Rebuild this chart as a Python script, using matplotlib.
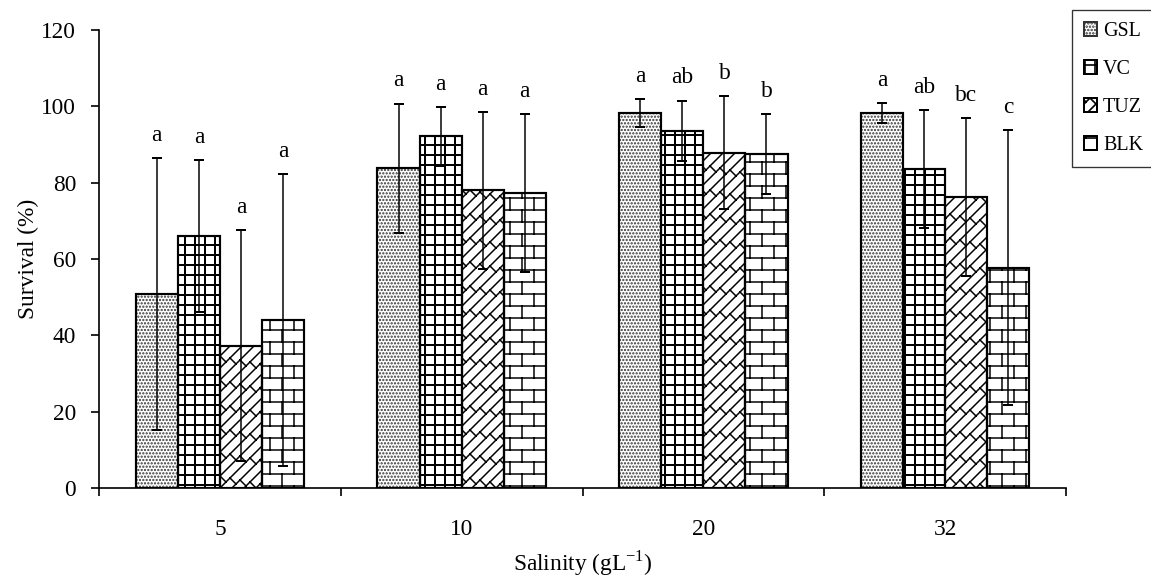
import warnings
import numpy as np
import matplotlib
matplotlib.use("Agg")
import matplotlib.pyplot as plt
import matplotlib.hatch as mhatch
from matplotlib.path import Path
from matplotlib.patches import Patch

warnings.filterwarnings("ignore")

salinity = ["5", "10", "20", "32"]
series = ["GSL", "VC", "TUZ", "BLK"]

gsl = [50.8, 83.8, 98.2, 98.3]
gsl_err = [35.6, 16.9, 3.7, 2.6]
vc = [66.0, 92.1, 93.6, 83.6]
vc_err = [19.9, 7.7, 7.9, 15.5]
tuz = [37.3, 78.0, 87.9, 76.2]
tuz_err = [30.2, 20.6, 14.8, 20.7]
blk = [44.0, 77.3, 87.4, 57.7]
blk_err = [38.2, 20.6, 10.5, 36.0]

gsl_sig = ["a", "a", "a", "a"]
vc_sig = ["a", "a", "ab", "ab"]
tuz_sig = ["a", "a", "b", "bc"]
blk_sig = ["a", "a", "b", "c"]


# custom hatches: 'b' = horizontal brick, 'z' = diagonal brick
class BrickHatch(mhatch.HatchPatternBase):
    rows, per_row = 10, 5

    def __init__(self, hatch, density):
        n, m = self.rows, self.per_row
        self.num_vertices = (n + (n + 1) * m) * 2 if "b" in hatch else 0

    def set_vertices_and_codes(self, vertices, codes):
        n, m = self.rows, self.per_row
        segs = []
        for k in range(n):
            y = (k + 0.5) / n
            segs.append(((0, y), (1, y)))
        for k in range(-1, n):
            y0 = (k + 0.5) / n
            for j in range(m):
                x = (j + 0.25 + 0.5 * (k % 2)) / m
                segs.append(((x, y0), (x, y0 + 1 / n)))
        vertices[:] = np.array(segs, dtype=float).reshape(-1, 2)
        codes[0::2] = Path.MOVETO
        codes[1::2] = Path.LINETO


class DiagBrickHatch(mhatch.HatchPatternBase):
    lines, per_line = 10, 6

    def __init__(self, hatch, density):
        n, m = self.lines, self.per_line
        self.num_vertices = ((2 * n + 1) + (2 * n + 1) * 3 * m) * 2 if "z" in hatch else 0

    def set_vertices_and_codes(self, vertices, codes):
        n, m = self.lines, self.per_line
        d, p = 1 / n, 1 / m
        segs = []
        for k in range(-n, n + 1):
            c = k * d
            segs.append(((-0.1, -0.1 + c), (1.1, 1.1 + c)))
        for k in range(-n, n + 1):
            c = k * d
            for j in range(-m, 2 * m):
                x0 = (j + 0.5 * (k % 2)) * p
                segs.append(((x0, x0 + c), (x0 + d / 2, x0 + c - d / 2)))
        vertices[:] = np.array(segs, dtype=float).reshape(-1, 2)
        codes[0::2] = Path.MOVETO
        codes[1::2] = Path.LINETO


mhatch._hatch_types.extend([BrickHatch, DiagBrickHatch])

plt.rcParams["font.family"] = ["Liberation Serif", "DejaVu Serif"]
plt.rcParams["mathtext.fontset"] = "custom"
plt.rcParams["mathtext.rm"] = "Liberation Serif"

DPI = 120
fig = plt.figure(figsize=(1151 / DPI, 577 / DPI), dpi=DPI)
ax = fig.add_axes([99 / 1151, 1 - 488 / 577, (1066 - 99) / 1151, (488 - 30) / 577])

x = np.arange(len(salinity))
w = 0.174
means = [gsl, vc, tuz, blk]
errs = [gsl_err, vc_err, tuz_err, blk_err]
sigs = [gsl_sig, vc_sig, tuz_sig, blk_sig]
hatches = ["......", "++", "z", "b"]
hatch_cols = ["#333333", "black", "black", "black"]
hatch_lw = [0.9, 1.2, 0.9, 0.9]

handles = []
for i, name in enumerate(series):
    pos = x + (i - 1.5) * w
    with plt.rc_context({"hatch.linewidth": hatch_lw[i]}):
        ax.bar(pos, means[i], w, color="white", edgecolor=hatch_cols[i],
               hatch=hatches[i], linewidth=0, zorder=2)
        handles.append(Patch(facecolor="white", edgecolor=hatch_cols[i],
                             hatch=hatches[i], linewidth=1.2, label=name))
    ax.bar(pos, means[i], w, fill=False, edgecolor="black", linewidth=1.3, zorder=3)
    ax.errorbar(pos, means[i], yerr=errs[i], fmt="none", ecolor="black",
                elinewidth=0.9, capsize=2.8, capthick=1.2, zorder=4)
    for xp, m, e, s in zip(pos, means[i], errs[i], sigs[i]):
        ax.text(xp, m + e + 4.5, s, ha="center", va="baseline", fontsize=14)

ax.set_ylim(0, 120)
ax.set_yticks(range(0, 121, 20))
ax.set_xlim(-0.5, len(salinity) - 0.5)
ax.set_xticks(np.arange(-0.5, len(salinity), 1.0))
ax.set_xticklabels([])
ax.set_xticks(x, minor=True)
ax.set_xticklabels(salinity, minor=True)
ax.tick_params(axis="x", which="major", direction="out", length=4.8, width=1)
ax.tick_params(axis="x", which="minor", length=0, pad=18.5, labelsize=14)
ax.tick_params(axis="y", direction="out", length=4.8, width=1, pad=9, labelsize=14)

for side in ["top", "right"]:
    ax.spines[side].set_visible(False)
for side in ["left", "bottom"]:
    ax.spines[side].set_linewidth(1.0)

ax.set_ylabel("Survival (%)", fontsize=14, labelpad=1)
ax.set_xlabel("Salinity (gL$^{\\mathrm{-1}}$)", fontsize=14, labelpad=5)

leg = fig.legend(handles=handles, loc="upper left",
                 bbox_to_anchor=(1072 / 1151, 1 - 10 / 577),
                 fontsize=12, frameon=True, fancybox=False,
                 handlelength=0.65, handleheight=0.65, handletextpad=0.3,
                 labelspacing=0.95, borderpad=0.6, borderaxespad=0)
leg.get_frame().set_edgecolor("black")
leg.get_frame().set_linewidth(0.8)

fig.savefig("out.png", dpi=DPI)
